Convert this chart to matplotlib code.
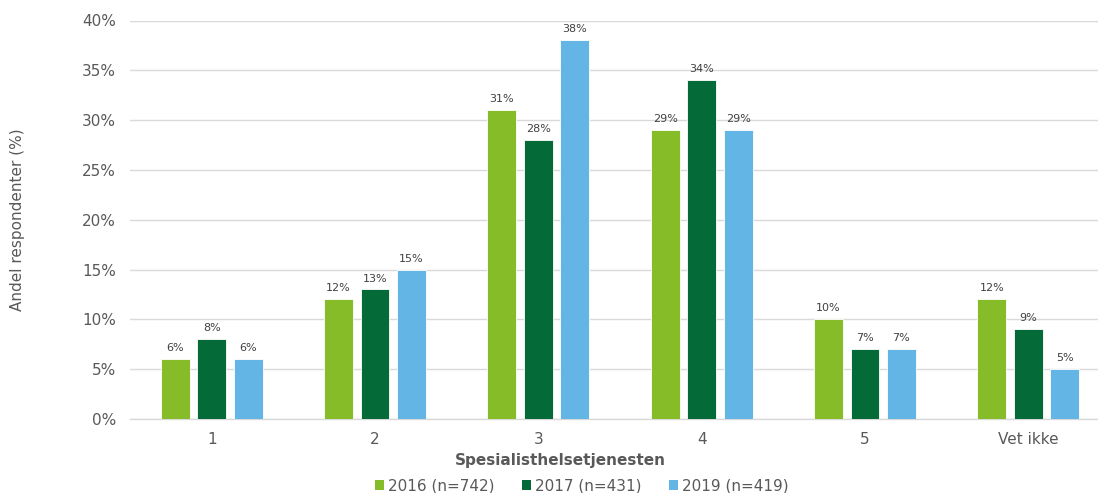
import matplotlib
matplotlib.use("Agg")
import matplotlib.pyplot as plt
import numpy as np
from matplotlib.ticker import PercentFormatter

categories = ["1", "2", "3", "4", "5", "Vet ikke"]
series_names = ["2016 (n=742)", "2017 (n=431)", "2019 (n=419)"]
values_2016 = [6, 12, 31, 29, 10, 12]
values_2017 = [8, 13, 28, 34, 7, 9]
values_2019 = [6, 15, 38, 29, 7, 5]
colors = ["#85BC27", "#046A38", "#62B5E5"]

plt.rcParams["font.family"] = ["DejaVu Sans"]
text_color = "#595959"

fig = plt.figure(figsize=(10.98, 4.93), dpi=100)
ax = fig.add_axes([130 / 1098, 74 / 493, 980 / 1098, (419 - 20.5) / 493])

x = np.arange(len(categories))
width = 0.177
offset = 0.223
for i, (vals, name, col) in enumerate(zip([values_2016, values_2017, values_2019], series_names, colors)):
    pos = x + (i - 1) * offset
    ax.bar(pos, vals, width=width, color=col, label=name, zorder=3,
           edgecolor="white", linewidth=0.6)
    for xp, v in zip(pos, vals):
        ax.text(xp, v + 0.6, f"{v}%", ha="center", va="bottom", fontsize=8,
                color="#404040", zorder=4)

ax.set_xlim(-0.5, len(categories) - 0.5)
ax.set_ylim(0, 40)
ax.set_yticks(np.arange(0, 41, 5))
ax.yaxis.set_major_formatter(PercentFormatter(decimals=0))
ax.set_xticks(x)
ax.set_xticklabels(categories)
ax.grid(axis="y", color="#D9D9D9", linewidth=1, zorder=0)
for s in ["top", "right", "left"]:
    ax.spines[s].set_visible(False)
ax.spines["bottom"].set_color("#D9D9D9")
ax.spines["bottom"].set_linewidth(1)
ax.tick_params(axis="both", length=0, labelsize=11, colors=text_color)
ax.tick_params(axis="y", pad=10)
ax.tick_params(axis="x", pad=9)

fig.text(18 / 1098, (493 - 220) / 493, "Andel respondenter (%)", rotation=90,
         ha="center", va="center", fontsize=11, color=text_color)
fig.text(560 / 1098, (493 - 461) / 493, "Spesialisthelsetjenesten", ha="center",
         va="center", fontsize=11, fontweight="bold", color=text_color)

leg = fig.legend(loc="center", bbox_to_anchor=(582 / 1098, (493 - 486) / 493), ncol=3,
                 frameon=False, fontsize=11, handlelength=0.55, handleheight=0.55,
                 handletextpad=0.3, columnspacing=1.8, labelcolor=text_color)
for h in leg.legend_handles:
    h.set_edgecolor("none")

fig.savefig("out.png", dpi=100)
